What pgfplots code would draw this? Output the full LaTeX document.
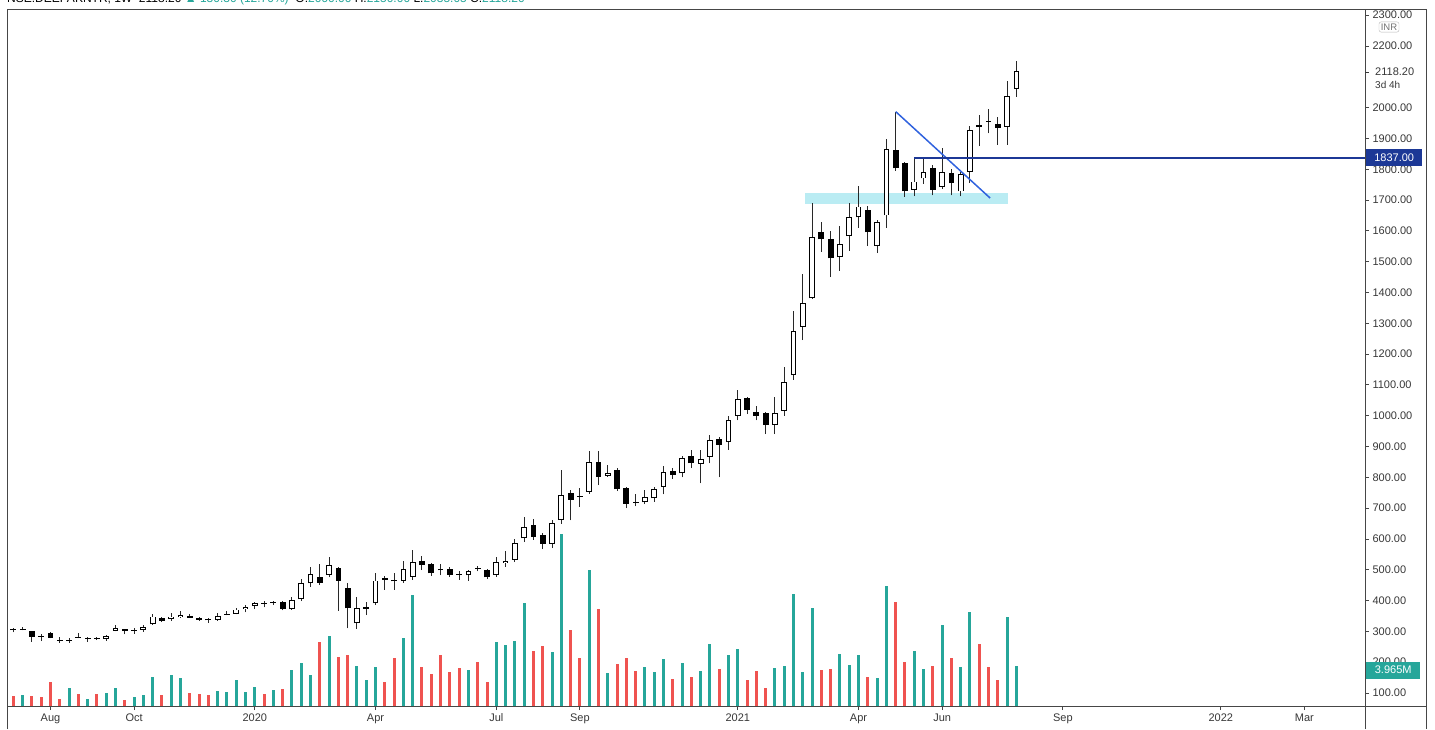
\documentclass[border=0pt]{standalone}
\usepackage{pgfplots}
\usepackage{pgfplotstable}
\pgfplotsset{compat=1.18}
\usepackage{fontspec}
\setmainfont{Liberation Sans}
\definecolor{tvgreen}{RGB}{38,166,154}
\definecolor{tvred}{RGB}{239,83,80}
\definecolor{navy}{RGB}{28,56,150}
\definecolor{trend}{RGB}{48,98,222}
\definecolor{zone}{RGB}{186,236,243}
\definecolor{framec}{RGB}{70,70,70}
\definecolor{lbl}{RGB}{55,55,55}
\definecolor{wick}{RGB}{40,40,40}

\pgfplotstableread{
i O H L C V
0 309 310 297 304 0.97
1 305 315 303 307 1.13
2 301 302 266 283 0.97
3 286 290 268 283 0.87
4 294 297 277 280 2.37
5 273 282 262 270 0.73
6 268 280 262 272 1.80
7 281 295 277 279 1.23
8 277 281 266 279 0.73
9 280 281 272 277 1.23
10 275 288 270 284 1.30
11 302 322 300 312 1.80
12 307 309 290 301 0.63
13 302 312 293 305 0.93
14 305 322 298 315 1.13
15 323 355 320 348 2.93
16 345 347 330 335 1.13
17 340 360 335 348 3.13
18 346 366 343 352 2.77
19 351 356 343 345 1.30
20 345 348 334 337 1.23
21 340 344 328 336 1.13
22 337 360 334 351 1.53
23 354 366 352 358 1.40
24 358 375 355 371 2.57
25 372 384 362 380 1.40
26 382 395 372 391 1.87
27 393 398 378 389 1.23
28 392 400 385 395 1.60
29 394 398 368 372 1.70
30 373 410 370 402 3.60
31 404 470 398 458 4.33
32 456 508 445 485 3.13
33 478 519 450 458 6.37
34 483 542 475 515 6.97
35 507 510 367 465 4.93
36 440 456 310 375 5.10
37 326 413 307 375 3.97
38 373 396 353 378 2.57
39 391 488 385 465 3.90
40 472 480 435 468 2.40
41 468 488 435 462 4.83
42 465 529 458 502 6.77
43 478 564 467 526 11.07
44 529 545 499 515 3.90
45 519 523 480 488 3.23
46 501 520 482 498 5.13
47 502 508 477 483 3.43
48 487 497 468 483 3.80
49 482 498 465 495 3.63
50 506 512 495 502 4.37
51 499 502 470 475 2.40
52 483 540 478 526 6.40
53 522 560 510 528 6.07
54 532 600 525 588 6.50
55 602 672 590 640 10.27
56 645 665 598 607 5.53
57 613 620 567 584 5.97
58 583 660 570 652 5.43
59 661 824 650 743 17.20
60 748 760 660 728 7.63
61 740 765 705 737 4.77
62 753 886 746 851 13.60
63 851 887 775 802 9.73
64 804 840 802 815 3.30
65 824 830 755 761 4.17
66 764 770 700 715 4.77
67 721 745 706 717 3.50
68 719 760 713 737 3.90
69 732 770 720 761 3.43
70 770 836 745 818 4.67
71 820 830 795 809 2.67
72 813 870 800 862 4.27
73 869 890 830 845 2.87
74 844 890 780 860 3.50
75 867 938 845 921 6.17
76 923 930 800 905 3.70
77 914 1000 890 986 5.10
78 1000 1085 985 1053 5.70
79 1056 1060 1005 1020 2.57
80 1011 1030 985 1000 3.53
81 1010 1012 940 970 1.80
82 970 1060 940 1010 3.80
83 1015 1157 1000 1110 3.97
84 1132 1340 1117 1276 11.23
85 1289 1460 1245 1367 3.40
86 1381 1690 1378 1579 9.80
87 1595 1630 1532 1572 3.60
88 1573 1600 1450 1511 3.70
89 1514 1615 1470 1557 5.23
90 1583 1690 1535 1644 4.10
91 1644 1745 1610 1679 5.10
92 1668 1680 1550 1595 2.93
93 1550 1635 1528 1628 2.83
94 1650 1897 1610 1865 12.00
95 1864 1987 1795 1803 10.37
96 1819 1822 1711 1728 4.37
97 1733 1837 1713 1760 5.53
98 1770 1836 1753 1792 3.70
99 1803 1815 1715 1733 4.00
100 1742 1870 1735 1792 8.10
101 1789 1800 1715 1754 4.83
102 1728 1790 1712 1783 3.90
103 1792 1940 1755 1927 9.40
104 1942 1975 1875 1938 6.17
105 1957 1997 1916 1954 3.90
106 1947 1970 1880 1933 2.57
107 1938 2085 1880 2038 8.93
108 2060 2150 2035.05 2118.2 3.965
}\candles

% volume: 1 M = 10 px; 1 price unit = 0.3081 px  ->  1 M = 32.457 price units
\pgfplotsset{
  ebar/.style 2 args={draw=none, mark=none, forget plot,
    error bars/.cd, y dir=plus, y explicit, error mark=none,
    error bar style={draw=#1, line width=#2, solid, line cap=butt}},
}

\begin{document}
\begin{tikzpicture}[x=1pt,y=1pt]
\begin{axis}[name=main, scale only axis, width=1358pt, height=696pt,
  at={(7,23)}, anchor=south west,
  xmin=-0.68, xmax=145.53, ymin=57.8, ymax=2316.8,
  clip mode=individual,
  axis line style={framec, line width=1pt},
  xtick={4,13,26,39,52,61,78,91,100,113,130,139},
  xticklabels={Aug,Oct,2020,Apr,Jul,Sep,2021,Apr,Jun,Sep,2022,Mar},
  xtick pos=bottom, ytick pos=right, yticklabel pos=right,
  ytick={100,200,...,2000,2200,2300},
  tick align=outside, major tick length=4pt,
  tick style={framec, line width=0.8pt},
  ticklabel style={font=\fontsize{11}{13}\selectfont, text=lbl},
  yticklabel style={/pgf/number format/.cd, fixed, fixed zerofill, precision=2, 1000 sep={}, assume math mode=true},
  ]
\coordinate (BL) at (rel axis cs:0,0);
% support zone
\addplot[draw=none, fill=zone, forget plot] coordinates {(85.2,1687) (107.06,1687) (107.06,1723) (85.2,1723)} -- cycle;
% volume bars from the bottom of the pane
\addplot[ebar={tvgreen}{3pt}] table[x=i, y expr=57.8, y error expr={(\thisrow{C}>=\thisrow{O})*\thisrow{V}*32.457}] {\candles};
\addplot[ebar={tvred}{3pt}] table[x=i, y expr=57.8, y error expr={(\thisrow{C}<\thisrow{O})*\thisrow{V}*32.457}] {\candles};
% wicks
\addplot[ebar={wick}{1pt}] table[x=i, y=L, y error expr=\thisrow{H}-\thisrow{L}] {\candles};
% bodies: black rectangle, white inside for rising weeks
\addplot[ebar={black}{5.8pt}] table[x=i, y expr={min(\thisrow{O},\thisrow{C})}, y error expr={max(abs(\thisrow{C}-\thisrow{O}),3)}] {\candles};
\addplot[ebar={white}{3.8pt}] table[x=i, y expr={min(\thisrow{O},\thisrow{C})+2.9}, y error expr={(\thisrow{C}>=\thisrow{O})*max(\thisrow{C}-\thisrow{O}-5.8,0)}] {\candles};
% drawings
\draw[trend, line width=1.5pt] (axis cs:95,1987) -- (axis cs:105.16,1706.6);
\draw[navy, line width=1.8pt] (axis cs:97,1837) -- (axis cs:145.53,1837);
\end{axis}
\begin{scope}[shift={(BL)}, xshift=-7pt, yshift=-23pt]
% outer frame
\draw[framec, line width=1pt] (7,0) -- (7,719) -- (1426,719) -- (1426,0);
\draw[framec, line width=1pt] (1365,0) -- (1365,719);
\draw[framec, line width=1pt] (7,23) -- (1426,23);
% right-side labels
\node[draw=gray!55, fill=white, rounded corners=2pt, text=gray!90!black, inner sep=1.8pt,
  font=\fontsize{9.5}{11}\selectfont] at (1389,702) {INR};
\draw[lbl, line width=0.8pt] (1365,657) -- (1369,657);
\node[anchor=west, text=lbl, inner sep=0pt, font=\fontsize{11}{13}\selectfont] at (1375,657) {2118.20};
\node[anchor=west, text=lbl, inner sep=0pt, font=\fontsize{10}{12}\selectfont] at (1375,644) {3d 4h};
\node[anchor=west, fill=navy, text=white, inner sep=0pt, minimum height=17pt, minimum width=56pt,
  font=\fontsize{11}{13}\selectfont] at (1366,571.2) {1837.00};
\node[anchor=west, fill=tvgreen, text=white, inner sep=0pt, minimum height=17pt, minimum width=54pt,
  font=\fontsize{11}{13}\selectfont] at (1366,59) {3.965M};
% header (cut off at the top)
\node[anchor=base west, inner sep=0pt, font=\fontsize{12}{14}\selectfont] at (7,726)
  {NSE:DEEPAKNTR, 1W \ 2118.20 \textcolor{tvgreen}{▲ 130.30 (12.70\%)} \ O:\textcolor{tvgreen}{2060.00} H:\textcolor{tvgreen}{2150.00} L:\textcolor{tvgreen}{2035.05} C:\textcolor{tvgreen}{2118.20}};
\pgfresetboundingbox
\path[use as bounding box] (0,0) rectangle (1435,729);
\end{scope}
\end{tikzpicture}
\end{document}
